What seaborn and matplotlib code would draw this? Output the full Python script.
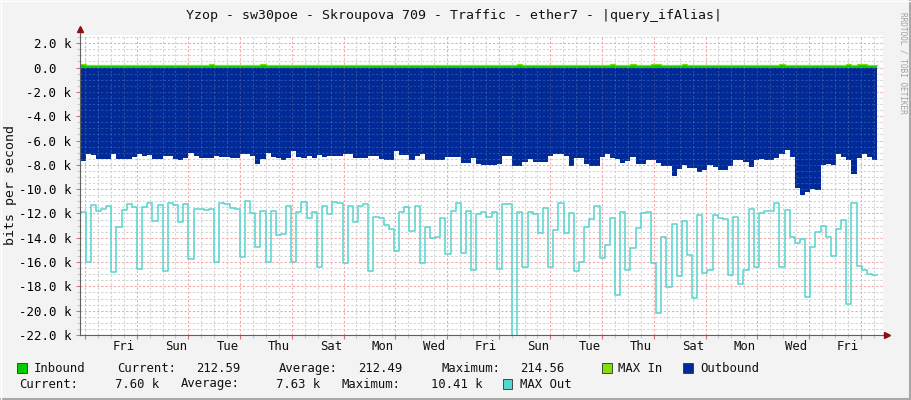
import numpy as np
import pandas as pd
import matplotlib
matplotlib.use("Agg")
import matplotlib.pyplot as plt
import seaborn as sns
from matplotlib.patches import Rectangle
from matplotlib.lines import Line2D
from matplotlib.transforms import blended_transform_factory

# ------------------------------------------------------------------ data
title = "Yzop - sw30poe - Skroupova 709 - Traffic - ether7 - |query_ifAlias|"
y_label = "bits per second"
watermark = "RRDTOOL / TOBI OETIKER"

day_labels = ["Fri", "Sun", "Tue", "Thu", "Sat", "Mon", "Wed", "Fri",
              "Sun", "Tue", "Thu", "Sat", "Mon", "Wed", "Fri"]

ytick_values = [2, 0, -2, -4, -6, -8, -10, -12, -14, -16, -18, -20, -22]
ytick_labels = ["2.0 k", "0.0  ", "-2.0 k", "-4.0 k", "-6.0 k", "-8.0 k",
                "-10.0 k", "-12.0 k", "-14.0 k", "-16.0 k", "-18.0 k",
                "-20.0 k", "-22.0 k"]

# Inbound average (bits/s)
inbound_bps = [
    212.5, 212.4, 212.6, 212.5, 212.5, 212.4, 212.5, 212.6, 212.5, 212.4,
    212.5, 212.6, 212.4, 212.5, 212.5, 212.6, 212.4, 212.5, 212.5, 212.4,
    212.6, 212.5, 212.4, 212.5, 212.6, 212.5, 212.5, 212.4, 212.6, 212.5,
    212.4, 212.5, 212.6, 212.5, 212.4, 212.5, 212.5, 212.6, 212.4, 212.5,
    212.5, 212.4, 212.6, 212.5, 212.5, 212.4, 212.5, 212.6, 212.5, 212.4,
    212.5, 212.6, 212.4, 212.5, 212.5, 212.6, 212.4, 212.5, 212.5, 212.4,
    212.6, 212.5, 212.4, 212.5, 212.6, 212.5, 212.5, 212.4, 212.6, 212.5,
    212.4, 212.5, 212.6, 212.5, 212.4, 212.5, 212.5, 212.6, 212.4, 212.5,
    212.5, 212.4, 212.6, 212.5, 212.5, 212.4, 212.5, 212.6, 212.5, 212.4,
    212.5, 212.6, 212.4, 212.5, 212.5, 212.6, 212.4, 212.5, 212.5, 212.4,
    212.6, 212.5, 212.4, 212.5, 212.6, 212.5, 212.5, 212.4, 212.6, 212.5,
    212.4, 212.5, 212.6, 212.5, 212.4, 212.5, 212.5, 212.6, 212.4, 212.5,
    212.5, 212.4, 212.6, 212.5, 212.5, 212.4, 212.5, 212.6, 212.5, 212.4,
    212.5, 212.6, 212.4, 212.5, 212.5, 212.6, 212.4, 212.5, 212.5, 212.4,
    212.6, 212.5, 212.4, 212.5, 212.6, 212.5, 212.5, 212.4, 212.6, 212.5,
    212.4, 212.5, 212.6, 212.5, 212.6,
]

# MAX In (bits/s)
max_in_bps = [
    330.0, 214.3, 214.4, 214.2, 214.5, 214.3, 214.4, 214.2, 214.3, 214.5,
    214.3, 214.4, 214.2, 214.5, 214.3, 214.4, 214.2, 214.3, 214.5, 214.4,
    214.3, 214.4, 214.2, 214.5, 214.3, 330.0, 214.4, 214.2, 214.3, 214.5,
    214.3, 214.4, 214.2, 214.5, 214.3, 330.0, 214.4, 214.2, 214.3, 214.5,
    214.3, 214.4, 214.2, 214.5, 214.3, 214.4, 214.2, 214.3, 214.5, 214.4,
    214.3, 214.4, 214.2, 214.5, 214.3, 214.4, 214.2, 214.3, 214.5, 214.4,
    214.3, 214.4, 214.2, 214.5, 214.3, 214.4, 214.2, 214.3, 214.5, 214.4,
    214.3, 214.4, 214.2, 214.5, 214.3, 214.4, 214.2, 214.3, 214.5, 214.4,
    214.3, 214.4, 214.2, 214.5, 214.3, 330.0, 214.4, 214.2, 214.3, 214.5,
    214.3, 214.4, 214.2, 214.5, 214.3, 214.4, 214.2, 214.3, 214.5, 214.4,
    214.3, 214.4, 214.2, 330.0, 214.3, 214.4, 214.2, 330.0, 214.5, 214.4,
    214.3, 330.0, 330.0, 214.5, 214.3, 214.4, 214.2, 330.0, 214.5, 214.4,
    214.3, 214.4, 214.2, 214.5, 214.3, 214.4, 214.2, 214.3, 214.5, 214.4,
    214.3, 214.4, 214.2, 214.5, 214.3, 214.4, 330.0, 214.3, 214.5, 214.4,
    214.3, 214.4, 214.2, 214.5, 214.3, 214.4, 214.2, 214.3, 214.5, 330.0,
    214.3, 330.0, 330.0, 214.5, 214.56,
]

# Outbound average (k bits/s, drawn mirrored below zero)
outbound_k = [
    7.70, 7.14, 7.22, 7.56, 7.56, 7.50, 7.14, 7.50, 7.50, 7.50,
    7.36, 7.14, 7.28, 7.22, 7.50, 7.50, 7.31, 7.31, 7.56, 7.64,
    7.42, 7.03, 7.28, 7.44, 7.44, 7.44, 7.28, 7.33, 7.33, 7.44,
    7.44, 7.14, 7.14, 7.28, 7.94, 7.56, 7.00, 7.36, 7.44, 7.58,
    7.42, 6.86, 7.36, 7.44, 7.31, 7.44, 7.22, 7.36, 7.28, 7.28,
    7.28, 7.14, 7.14, 7.44, 7.44, 7.44, 7.31, 7.31, 7.50, 7.64,
    7.64, 6.89, 7.22, 7.22, 7.58, 7.28, 7.14, 7.58, 7.58, 7.58,
    7.58, 7.36, 7.36, 7.36, 7.83, 7.83, 7.44, 7.92, 8.00, 8.00,
    8.00, 7.92, 7.28, 7.28, 8.06, 8.06, 7.78, 7.56, 7.78, 7.78,
    7.78, 7.28, 7.08, 7.08, 7.28, 8.06, 7.44, 7.44, 7.92, 8.06,
    8.06, 7.36, 7.08, 7.42, 7.56, 7.83, 7.72, 7.36, 7.92, 7.97,
    7.64, 7.64, 7.86, 8.11, 8.11, 8.94, 8.33, 8.00, 8.25, 8.25,
    8.61, 8.42, 8.00, 8.19, 8.39, 8.39, 8.06, 7.64, 7.64, 7.78,
    8.19, 7.64, 7.50, 7.64, 7.64, 7.44, 7.08, 6.81, 7.36, 9.94,
    10.47, 10.22, 10.00, 10.08, 8.00, 7.92, 8.00, 7.08, 7.36, 7.64,
    8.78, 7.44, 7.08, 7.36, 7.60,
]

# MAX Out (k bits/s, drawn mirrored below zero)
max_out_k = [
    11.85, 16.0, 11.3, 11.8, 11.6, 11.4, 16.8, 13.1, 11.7, 11.2,
    11.45, 16.6, 11.45, 11.15, 12.6, 11.3, 16.7, 11.15, 11.3, 12.7,
    11.2, 15.75, 11.6, 11.6, 11.7, 11.6, 16.0, 11.15, 11.2, 11.55,
    11.6, 15.56, 11.0, 12.0, 14.75, 11.8, 16.0, 11.8, 13.8, 13.7,
    11.4, 16.0, 11.9, 11.04, 12.41, 11.86, 16.44, 11.37, 12.05, 11.04,
    11.18, 16.1, 11.37, 12.71, 11.37, 11.26, 16.74, 12.27, 12.41, 12.96,
    13.3, 15.1, 11.92, 11.45, 13.45, 11.37, 16.1, 13.15, 14.05, 13.97,
    12.36, 15.37, 11.78, 11.18, 15.29, 11.78, 16.66, 12.05, 11.86, 12.33,
    11.86, 16.58, 11.26, 11.26, 22.6, 11.92, 16.44, 11.86, 12.05, 13.64,
    11.59, 16.44, 13.37, 11.12, 13.59, 12.0, 16.74, 15.97, 13.15, 12.49,
    11.37, 15.7, 14.63, 12.41, 18.74, 11.92, 16.68, 14.88, 13.23, 12.0,
    11.86, 16.1, 20.22, 13.92, 18.05, 12.9, 17.15, 12.63, 15.45, 18.99,
    12.16, 16.93, 16.66, 12.16, 12.41, 12.49, 17.1, 12.27, 17.84, 16.66,
    11.67, 16.44, 12.0, 11.81, 11.78, 11.1, 16.38, 11.7, 13.97, 14.47,
    14.14, 18.9, 14.74, 13.56, 13.01, 13.92, 15.48, 13.32, 12.58, 19.48,
    11.18, 16.3, 16.68, 17.01, 17.05,
]

legend_row1 = ["Inbound", "Current:", "212.59", "Average:", "212.49",
               "Maximum:", "214.56", "MAX In", "Outbound"]
legend_row2 = ["Current:", "7.60 k", "Average:", "7.63 k", "Maximum:",
               "10.41 k", "MAX Out"]

# ------------------------------------------------------------------ style
C_IN = "#00CC00"
C_MAXIN = "#7FE000"
C_OUT = "#002A97"
C_MAXOUT = "#55D5CD"
BG = "#F3F3F3"
MONO = ["DejaVu Sans Mono"]

W, H = 911, 400
L, R, T, B = 80.3, 883.0, 35.0, 335.0
PX_PER_DAY = 25.857
T0 = 0.008          # first sample start (days from left edge)
STEP = 0.19875      # sample width (days)


def fx(px):
    return px / W


def fy(py):
    return 1 - py / H


fig = plt.figure(figsize=(W / 100, H / 100), dpi=100, facecolor=BG)
ax = fig.add_axes([fx(L), fy(B), (R - L) / W, (B - T) / H])
ax.set_facecolor("white")
XMAX = (R - L) / PX_PER_DAY
YTOP = 2.68
ax.set_xlim(0, XMAX)
ax.set_ylim(-22, YTOP)

n = len(outbound_k)
t_edges = T0 + STEP * np.arange(n + 1)


def ext(v):
    v = np.asarray(v, dtype=float)
    return np.append(v, v[-1])


inb = ext(inbound_bps) / 1000.0
maxin = ext(max_in_bps) / 1000.0
outb = -ext(outbound_k)
maxout = -ext(max_out_k)

# areas
ax.fill_between(t_edges, outb, 0, step="post", color=C_OUT, lw=0, zorder=2)
ax.fill_between(t_edges, 0, inb, step="post", color=C_IN, lw=0, zorder=2)

# grid: full strength underneath, faint copy on top of the areas
h_major = np.arange(-22, 2.01, 2)
h_minor = np.array([v for v in np.arange(-22, YTOP, 0.5) if abs(v / 2 - round(v / 2)) > 1e-6])
v_major = np.arange(0.18, XMAX, 2.0)
v_minor = np.array([v for v in np.arange(0.18, XMAX, 0.5) if abs(((v - 0.18) / 2) - round((v - 0.18) / 2)) > 1e-6])
dot = (0, (2, 2))
for z, a in [(1, 1.0), (3, 0.22)]:
    ax.hlines(h_minor, 0, XMAX, colors="#D2D2D2", lw=0.75, ls=dot, alpha=a, zorder=z)
    ax.vlines(v_minor, -22, YTOP, colors="#D2D2D2", lw=0.75, ls=dot, alpha=a, zorder=z)
    ax.hlines(h_major, 0, XMAX, colors="#F4A6A6", lw=0.75, ls=dot, alpha=a, zorder=z)
    ax.vlines(v_major, -22, YTOP, colors="#F4A6A6", lw=0.75, ls=dot, alpha=a, zorder=z)

# lines via seaborn
df_maxin = pd.DataFrame({"t": t_edges, "v": maxin})
df_maxout = pd.DataFrame({"t": t_edges, "v": maxout})
sns.lineplot(data=df_maxin, x="t", y="v", ax=ax, color=C_MAXIN, lw=0.9,
             drawstyle="steps-post", estimator=None, sort=False, zorder=5)
sns.lineplot(data=df_maxout, x="t", y="v", ax=ax, color=C_MAXOUT, lw=1.1,
             drawstyle="steps-post", estimator=None, sort=False, zorder=5)
ax.set_xlabel("")
ax.set_ylabel("")

# spines / axes
for s in ["top", "right"]:
    ax.spines[s].set_visible(False)
for s in ["left", "bottom"]:
    ax.spines[s].set_color("#606060")
    ax.spines[s].set_linewidth(0.8)
    ax.spines[s].set_zorder(6)
ax.add_line(Line2D([0, 0], [1, 1 + 6 / (B - T)], transform=ax.transAxes,
                   color="#606060", lw=0.8, clip_on=False))
ax.add_line(Line2D([1, 1 + 4 / (R - L)], [0, 0], transform=ax.transAxes,
                   color="#606060", lw=0.8, clip_on=False))
ax.plot([0], [1 + 6 / (B - T)], transform=ax.transAxes, marker="^", ms=4.5,
        color="#8B1010", clip_on=False, zorder=7)
ax.plot([1 + 4 / (R - L)], [0], transform=ax.transAxes, marker=">", ms=4.5,
        color="#8B1010", clip_on=False, zorder=7)

# y ticks
ax.set_yticks(ytick_values)
ax.set_yticklabels(ytick_labels, fontfamily=MONO, fontsize=9.0)
ax.set_yticks(h_minor, minor=True)
ax.tick_params(axis="y", which="major", length=3, width=0.8, color="#E07070", pad=3.5)
ax.tick_params(axis="y", which="minor", length=2, width=0.8, color="#C8C8C8")

# x ticks (marks only) + day labels
ax.set_xticks(v_major)
ax.set_xticklabels([])
ax.set_xticks(v_minor, minor=True)
ax.tick_params(axis="x", which="major", length=3, width=0.8, color="#E07070")
ax.tick_params(axis="x", which="minor", length=2, width=0.8, color="#C8C8C8")
label_pos = 1.69 + 2.0 * np.arange(len(day_labels))
trans = blended_transform_factory(ax.transData, fig.transFigure)
for xp, lab in zip(label_pos, day_labels):
    ax.text(xp, fy(347), lab, transform=trans, ha="center", va="center",
            fontfamily=MONO, fontsize=8.8, color="#111111")

# texts
fig.text(fx(453.5), fy(15), title, ha="center", va="center",
         fontfamily=MONO, fontsize=9.5, color="#111111")
fig.text(fx(11), fy(185), y_label, rotation=90, ha="center", va="center",
         fontfamily=MONO, fontsize=9.5, color="#111111")
fig.text(fx(903), fy(12), watermark, rotation=270, ha="center", va="top",
         fontfamily=MONO, fontsize=5.6, color="#A0A0A0")

# legend
row1_x = [34, 117, 196, 279, 358, 441, 520, 618, 700]
row2_x = [19, 115, 181, 276, 342, 431, 520]
for txt, xp in zip(legend_row1, row1_x):
    fig.text(fx(xp), fy(368.3), txt, ha="left", va="center",
             fontfamily=MONO, fontsize=8.8, color="#111111")
for txt, xp in zip(legend_row2, row2_x):
    fig.text(fx(xp), fy(384), txt, ha="left", va="center",
             fontfamily=MONO, fontsize=8.8, color="#111111")

boxes = [(17.3, 363.0, C_IN), (602, 363.0, C_MAXIN), (683, 363.0, C_OUT),
         (503, 379.0, C_MAXOUT)]
for bx, by, c in boxes:
    fig.patches.append(Rectangle((fx(bx), fy(by + 9.5)), 9.5 / W, 9.5 / H,
                                 transform=fig.transFigure, facecolor=c,
                                 edgecolor="#303030", lw=0.6))

# frame (3d-ish border)
fig.add_artist(Line2D([0, 1], [fy(398.5), fy(398.5)], transform=fig.transFigure,
                      color="#A8A8A8", lw=2.2))
fig.add_artist(Line2D([fx(909.5), fx(909.5)], [0, 1], transform=fig.transFigure,
                      color="#A8A8A8", lw=2.2))
fig.add_artist(Line2D([0, 1], [fy(0.5), fy(0.5)], transform=fig.transFigure,
                      color="#FFFFFF", lw=1.0))
fig.add_artist(Line2D([fx(0.5), fx(0.5)], [0, 1], transform=fig.transFigure,
                      color="#FFFFFF", lw=1.0))

fig.savefig("out.png", dpi=100, facecolor=BG)
